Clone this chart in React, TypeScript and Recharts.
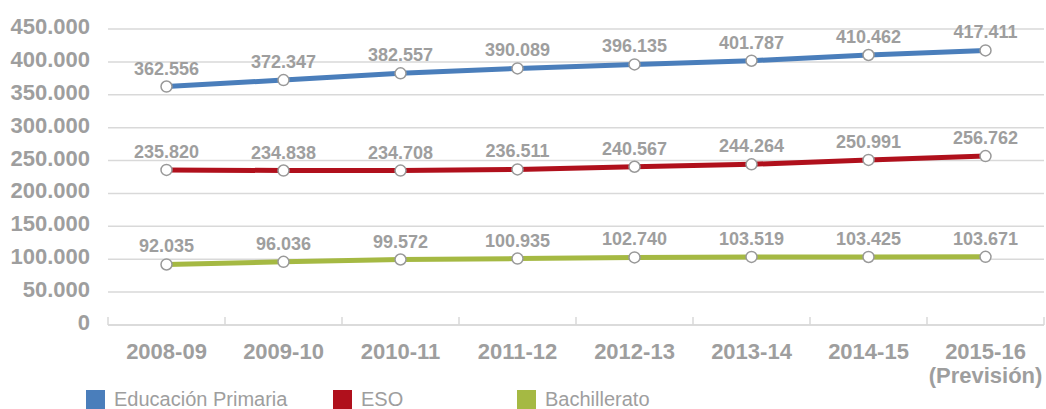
import { LineChart, Line, XAxis, YAxis, CartesianGrid, LabelList } from 'recharts';

const years = ['2008-09', '2009-10', '2010-11', '2011-12', '2012-13', '2013-14', '2014-15', '2015-16'];
const primaria = [362556, 372347, 382557, 390089, 396135, 401787, 410462, 417411];
const eso = [235820, 234838, 234708, 236511, 240567, 244264, 250991, 256762];
const bachillerato = [92035, 96036, 99572, 100935, 102740, 103519, 103425, 103671];
const yTicks = [0, 50000, 100000, 150000, 200000, 250000, 300000, 350000, 400000, 450000];

const SERIES = [
  { key: 'primaria', name: 'Educación Primaria', color: '#4a7ebb', left: 86 },
  { key: 'eso', name: 'ESO', color: '#b0101c', left: 333 },
  { key: 'bachillerato', name: 'Bachillerato', color: '#a5b943', left: 517 },
];

const GREY = '#9e9e9e';
const FONT = '"Liberation Sans", Arial, sans-serif';

const data = years.map((year, i) => ({
  year,
  primaria: primaria[i],
  eso: eso[i],
  bachillerato: bachillerato[i],
}));

const fmt = (n: number) => String(n).replace(/\B(?=(\d{3})+(?!\d))/g, '.');

function YTick({ y, payload }: any) {
  return (
    <text x={90} y={y} dy={5} textAnchor="end" fill={GREY} fontSize={22} fontWeight="bold" fontFamily={FONT}>
      {fmt(payload.value)}
    </text>
  );
}

function XTick({ x, y, payload, index }: any) {
  const half = payload.offset || 58.5;
  const last = index === years.length - 1;
  return (
    <g>
      <line x1={x - half} x2={x - half} y1={y - 8} y2={y} stroke="#d9d9d9" strokeWidth={1.5} />
      {last && <line x1={x + half} x2={x + half} y1={y - 8} y2={y} stroke="#d9d9d9" strokeWidth={1.5} />}
      <text x={x} y={y} dy={34} textAnchor="middle" fill={GREY} fontSize={22} fontWeight="bold" fontFamily={FONT}>
        {payload.value}
      </text>
      {last && (
        <text x={x} y={y} dy={58} textAnchor="middle" fill={GREY} fontSize={22} fontWeight="bold" fontFamily={FONT}>
          (Previsión)
        </text>
      )}
    </g>
  );
}

function LegendBox() {
  return (
    <div style={{ position: 'absolute', left: 0, top: 390, width: 1046, height: 19 }}>
      {SERIES.map((s) => (
        <div key={s.key} style={{ position: 'absolute', left: s.left, top: 0, display: 'flex', alignItems: 'flex-start' }}>
          <div style={{ width: 19, height: 19, background: s.color }} />
          <span style={{ marginLeft: 9, color: GREY, fontSize: 20, lineHeight: '19px', fontFamily: FONT, whiteSpace: 'nowrap' }}>
            {s.name}
          </span>
        </div>
      ))}
    </div>
  );
}

export default function App() {
  return (
    <div style={{ position: 'absolute', left: 0, top: 0, width: 1046, height: 409, background: '#fff', overflow: 'hidden' }}>
      <LineChart width={1046} height={409} data={data} margin={{ top: 29, right: 2, left: 0, bottom: 54 }}>
        <CartesianGrid vertical={false} stroke="#d9d9d9" strokeWidth={1.5} />
        <XAxis
          dataKey="year"
          scale="band"
          height={30}
          axisLine={{ stroke: '#d9d9d9', strokeWidth: 1.5 }}
          tickLine={false}
          tickSize={0}
          tickMargin={0}
          interval={0}
          tick={<XTick />}
        />
        <YAxis
          width={108}
          domain={[0, 450000]}
          ticks={yTicks}
          axisLine={false}
          tickLine={false}
          tick={<YTick />}
        />
        {SERIES.map((s) => (
          <Line
            key={s.key}
            type="linear"
            dataKey={s.key}
            name={s.name}
            stroke={s.color}
            strokeWidth={5}
            dot={{ r: 5.5, fill: '#fff', stroke: '#999', strokeWidth: 1.5 }}
            activeDot={false}
            isAnimationActive={false}
          >
            <LabelList
              dataKey={s.key}
              position="top"
              offset={12}
              formatter={(v: any) => fmt(Number(v))}
              fill={GREY}
              fontSize={18}
              fontWeight="bold"
              fontFamily={FONT}
            />
          </Line>
        ))}
      </LineChart>
      <LegendBox />
    </div>
  );
}
